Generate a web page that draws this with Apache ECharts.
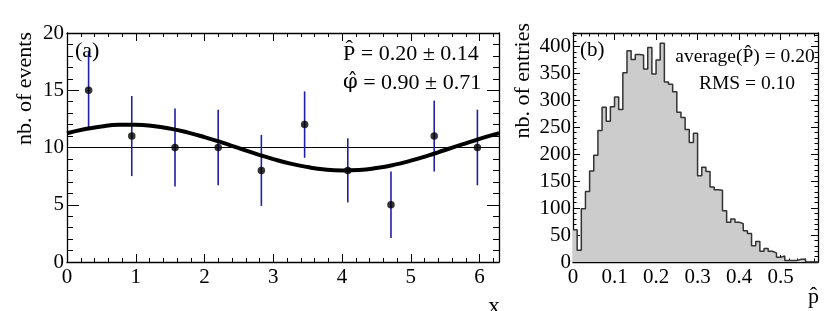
<!DOCTYPE html>
<html><head><meta charset="utf-8">
<script src="https://cdn.jsdelivr.net/npm/echarts@6/dist/echarts.min.js"></script>
<style>html,body{margin:0;padding:0;background:#fff}#c{width:830px;height:311px}</style>
</head><body><div id="c"></div>
<script>
// ---- panel (a): data points with error bars ----
const pointX = [0.314, 0.942, 1.571, 2.199, 2.827, 3.456, 4.084, 4.712, 5.341, 5.969];
const pointY = [15, 11, 10, 10, 8, 12, 8, 5, 11, 10];
const pointErr = [3.4, 3.5, 3.4, 3.3, 3.1, 2.9, 2.8, 2.9, 3.1, 3.3];
// fitted curve
const curveX = [0, 0.25, 0.5, 0.75, 1.0, 1.25, 1.5, 1.75, 2.0, 2.25, 2.5, 2.75, 3.0, 3.25, 3.5, 3.75, 4.0, 4.25, 4.5, 4.75, 5.0, 5.25, 5.5, 5.75, 6.0, 6.25, 6.2832];
const curveY = [11.24, 11.59, 11.84, 11.98, 11.99, 11.88, 11.65, 11.32, 10.91, 10.44, 9.94, 9.45, 8.99, 8.59, 8.29, 8.08, 8.00, 8.04, 8.21, 8.48, 8.85, 9.29, 9.78, 10.27, 10.76, 11.19, 11.24];
const refLineX = [0, 6.2832];
const refLineY = [10, 10];
const fitTexts = ['P\u0302 = 0.20 \u00b1 0.14', '\u03c6\u0302', ' = 0.90 \u00b1 0.71'];
// ---- panel (b): histogram of P-hat ----
const binWidth = 0.01;
const histCounts = [60, 22, 99, 131, 169, 198, 244, 287, 261, 288, 306, 283, 351, 392, 376, 385, 384, 358, 398, 349, 375, 406, 334, 330, 316, 278, 268, 246, 222, 239, 160, 176, 168, 139, 134, 133, 95, 74, 80, 74, 71, 58, 53, 30, 38, 20, 25, 20, 17, 9, 11, 3, 3, 3, 5, 5, 0, 0, 0];
const statTexts = ['average(P\u0302) = 0.20', 'RMS = 0.10'];

const FONT = 'Liberation Serif';
const LBL = {fontFamily: FONT, fontSize: 21, color: '#000'};

function axisSet(dim, grid, min, max, major, minor, majLen, minLen, showMax, labelMargin) {
  const posA = dim === 'x' ? 'bottom' : 'left';
  const posB = dim === 'x' ? 'top' : 'right';
  const base = {type: 'value', gridIndex: grid, min: min, max: max, splitLine: {show: false}, minorTick: {show: false}, axisPointer: {show: false}};
  const line = {show: true, onZero: false, lineStyle: {color: '#000', width: 1.3}};
  const noLine = {show: false, onZero: false};
  const tick = (len) => ({show: true, inside: true, length: len, lineStyle: {color: '#000', width: 1}});
  return [
    Object.assign({}, base, {position: posA, interval: major, axisLine: line, axisTick: tick(majLen),
      axisLabel: Object.assign({show: true, margin: labelMargin, showMaxLabel: showMax}, LBL)}),
    Object.assign({}, base, {position: posA, interval: minor, axisLine: noLine, axisTick: tick(minLen), axisLabel: {show: false}}),
    Object.assign({}, base, {position: posB, interval: major, axisLine: line, axisTick: tick(majLen), axisLabel: {show: false}}),
    Object.assign({}, base, {position: posB, interval: minor, axisLine: noLine, axisTick: tick(minLen), axisLabel: {show: false}})
  ];
}

const xAxes = [].concat(
  axisSet('x', 0, 0, 6.2832, 1, 0.2, 8, 4, false, 5),
  axisSet('x', 1, 0, 0.59, 0.1, 0.02, 7, 3.5, false, 5)
);
const yAxes = [].concat(
  axisSet('y', 0, 0, 20, 5, 1, 12, 6, true, 3),
  axisSet('y', 1, 0, 425, 50, 10, 7, 3.5, false, 2)
);

const histData = histCounts.map((c, i) => [i * binWidth, c]);
histData.push([histCounts.length * binWidth, 0]);

function txt(text, x, y, size, align, rot) {
  return {type: 'text', x: x, y: y, rotation: rot || 0, z: 100,
    style: {text: text, font: size + 'px "' + FONT + '"', fill: '#000',
      align: align, verticalAlign: 'middle', textAlign: align, textVerticalAlign: 'middle'}};
}

const option = {
  animation: false,
  backgroundColor: '#fff',
  textStyle: {fontFamily: FONT},
  grid: [
    {left: 67, top: 33, width: 432, height: 229},
    {left: 573, top: 33, width: 245, height: 229}
  ],
  xAxis: xAxes,
  yAxis: yAxes,
  series: [
    {type: 'line', xAxisIndex: 0, yAxisIndex: 0, data: refLineX.map((x, i) => [x, refLineY[i]]),
      symbol: 'none', lineStyle: {color: '#000', width: 1.2}, z: 2},
    {type: 'custom', xAxisIndex: 0, yAxisIndex: 0, z: 3,
      data: pointX.map((x, i) => [x, pointY[i] - pointErr[i], pointY[i] + pointErr[i]]),
      encode: {x: 0, y: [1, 2]},
      renderItem: function (params, api) {
        const a = api.coord([api.value(0), api.value(1)]);
        const b = api.coord([api.value(0), api.value(2)]);
        return {type: 'line', shape: {x1: a[0], y1: a[1], x2: b[0], y2: b[1]},
          style: {stroke: '#1f1fa8', lineWidth: 1.6}};
      }},
    {type: 'line', xAxisIndex: 0, yAxisIndex: 0, data: curveX.map((x, i) => [x, curveY[i]]),
      smooth: true, symbol: 'none', lineStyle: {color: '#000', width: 4}, z: 4},
    {type: 'scatter', xAxisIndex: 0, yAxisIndex: 0, data: pointX.map((x, i) => [x, pointY[i]]),
      symbol: 'circle', symbolSize: 7.5, itemStyle: {color: '#000'}, z: 5},
    {type: 'line', xAxisIndex: 4, yAxisIndex: 4, data: histData, step: 'end', symbol: 'none',
      lineStyle: {color: '#333', width: 1.5}, areaStyle: {color: '#cccccc', opacity: 1}, z: 2}
  ],
  graphic: [
    txt('nb. of events', 25, 32, 22, 'right', Math.PI / 2),
    txt('x', 500, 307, 24, 'right'),
    txt('(a)', 75, 51, 22, 'left'),
    txt(fitTexts[0], 343, 54, 22, 'left'),
    {type: 'text', x: 343, y: 83, z: 100,
      style: {text: '{g|' + fitTexts[1] + '}{t|' + fitTexts[2] + '}', align: 'left', verticalAlign: 'middle',
        textAlign: 'left', textVerticalAlign: 'middle', fill: '#000',
        rich: {g: {fontFamily: 'DejaVu Serif', fontSize: 21, fill: '#000', color: '#000'},
               t: {fontFamily: FONT, fontSize: 22, fill: '#000', color: '#000'}}}},
    txt('nb. of entries', 523, 23, 22, 'right', Math.PI / 2),
    txt('p\u0302', 819, 297, 22, 'right'),
    txt('(b)', 580, 50, 21, 'left'),
    txt(statTexts[0], 745, 57, 19.5, 'center'),
    txt(statTexts[1], 747, 84, 19.5, 'center')
  ]
};
const chart = echarts.init(document.getElementById('c'), null, {renderer: 'canvas'});
chart.setOption(option);
</script>
</body></html>
